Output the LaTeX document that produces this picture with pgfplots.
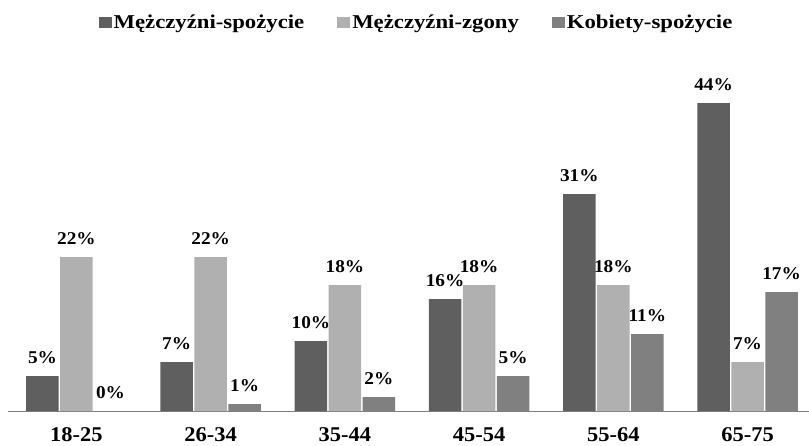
\documentclass[border=0pt]{standalone}
\usepackage{fontspec}
\setmainfont{Liberation Serif}[FakeStretch=1.07]
\newfontfamily\legfont{Liberation Serif}[FakeStretch=1.16]
\usepackage{pgfplots}
\pgfplotsset{compat=1.18}
\definecolor{cdark}{HTML}{5F5F5F}
\definecolor{clight}{HTML}{B0B0B0}
\definecolor{cmed}{HTML}{808080}
\begin{document}
\begin{tikzpicture}[x=1pt,y=1pt]
\path[use as bounding box] (0,0) rectangle (809,445);
\begin{axis}[
  at={(8pt,34pt)}, anchor=south west,
  scale only axis, width=801pt, height=350pt,
  ybar=1.5pt, bar width=32.5pt,
  xmin=-0.51, xmax=5.458,
  ymin=0, ymax=50,
  axis x line*=bottom,
  axis y line=none,
  x axis line style={draw=cmed, line width=0.9pt, -},
  xtick={0,1,2,3,4,5},
  xticklabels={18-25,26-34,35-44,45-54,55-64,65-75},
  major tick length=0pt,
  xticklabel style={font=\fontsize{21}{21}\selectfont\bfseries, yshift=-13pt},
  /pgf/number format/assume math mode=true,
  nodes near coords={\pgfmathprintnumber{\pgfplotspointmeta}\%},
  every node near coord/.append style={font=\fontsize{18}{18}\selectfont\bfseries, color=black, yshift=9pt},
  legend columns=3,
  legend style={at={(0.51,1.11)}, anchor=center, draw=none, fill=none,
    font=\legfont\fontsize{19.6}{19.6}\selectfont\bfseries,
    nodes={inner ysep=1pt, inner xsep=2pt},
    /tikz/every even column/.append style={column sep=31pt}},
  legend image code/.code={\fill[#1] (0pt,-5pt) rectangle (13pt,5pt);},
]
\addplot[fill=cdark, draw=none] coordinates {(0,5) (1,7) (2,10) (3,16) (4,31) (5,44)};
\addplot[fill=clight, draw=none] coordinates {(0,22) (1,22) (2,18) (3,18) (4,18) (5,7)};
\addplot[fill=cmed, draw=none] coordinates {(0,0) (1,1) (2,2) (3,5) (4,11) (5,17)};
\legend{Mężczyźni-spożycie, Mężczyźni-zgony, Kobiety-spożycie}
\end{axis}
\end{tikzpicture}
\end{document}
